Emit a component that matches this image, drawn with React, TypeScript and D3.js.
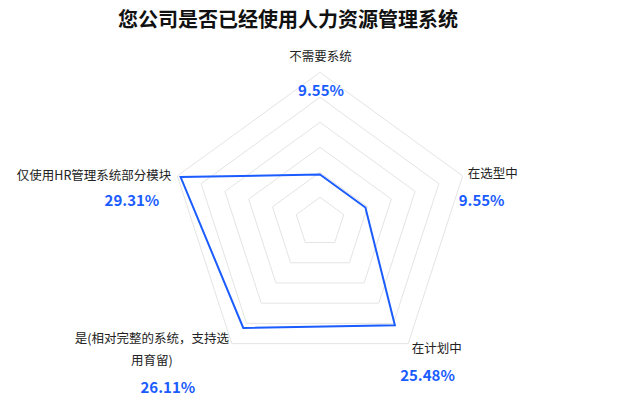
import * as d3 from 'd3';
import { useEffect, useRef } from 'react';

const title = '您公司是否已经使用人力资源管理系统';
const categories = [
  '不需要系统',
  '在选型中',
  '在计划中',
  '是(相对完整的系统，支持选\n用育留)',
  '仅使用HR管理系统部分模块',
];
const values = [9.55, 9.55, 25.48, 26.11, 29.31];
const maxValue = 30;
const ringCount = 6;

// label placement relative to each outer vertex
const labelLayout = [
  { anchor: 'middle', nx: 0.5, ny: -17, vAnchor: 'middle', vx: 1, vy: 17 },
  { anchor: 'start', nx: 5, ny: -3, vAnchor: 'start', vx: -4, vy: 24 },
  { anchor: 'start', nx: 3.5, ny: 4, vAnchor: 'start', vx: -8, vy: 31 },
  { anchor: 'middle', nx: -80, ny: -6, vAnchor: 'middle', vx: -64, vy: 43 },
  { anchor: 'end', nx: -6, ny: -1, vAnchor: 'end', vx: -18, vy: 24 },
];

const W = 640;
const H = 403;
const cx = 320;
const cy = 222.3;
const R = 150;
const BLUE = '#1a5cff';
const FONT = '"Noto Sans CJK SC", "Noto Sans", sans-serif';

export default function App() {
  const ref = useRef<SVGSVGElement>(null);

  useEffect(() => {
    if (!ref.current) return;
    const svg = d3.select(ref.current);
    svg.selectAll('*').remove();

    const r = d3.scaleLinear().domain([0, maxValue]).range([0, R]);
    const angle = d3.scaleLinear().domain([0, categories.length]).range([0, Math.PI * 2]);
    const pt = (i: number, rad: number): [number, number] => [
      cx + Math.sin(angle(i)) * rad,
      cy - Math.cos(angle(i)) * rad,
    ];

    svg.append('rect').attr('width', W).attr('height', H).attr('fill', '#fff');

    // title
    svg.append('text')
      .text(title)
      .attr('x', 288)
      .attr('y', 18)
      .attr('text-anchor', 'middle')
      .attr('dominant-baseline', 'central')
      .attr('font-family', FONT)
      .attr('font-weight', 'bold')
      .attr('font-size', 20)
      .attr('fill', '#111');

    // grid rings
    const ringValues = d3.range(1, ringCount + 1).map((k) => (maxValue / ringCount) * k);
    const line = d3.line().curve(d3.curveLinearClosed);
    svg.append('g')
      .selectAll('path')
      .data(ringValues)
      .join('path')
      .attr('d', (v) => line(categories.map((_, i) => pt(i, r(v)))))
      .attr('fill', 'none')
      .attr('stroke', '#e4e4e4')
      .attr('stroke-width', 1);

    // data polygon
    svg.append('path')
      .attr('d', line(values.map((v, i) => pt(i, r(v)))))
      .attr('fill', 'none')
      .attr('stroke', BLUE)
      .attr('stroke-width', 2)
      .attr('stroke-linejoin', 'miter');

    // labels
    categories.forEach((name, i) => {
      const [vx, vy] = pt(i, R);
      const L = labelLayout[i];
      const lines = name.split('\n');
      lines.forEach((ln, j) => {
        svg.append('text')
          .text(ln)
          .attr('x', vx + L.nx)
          .attr('y', vy + L.ny + j * 22)
          .attr('text-anchor', L.anchor)
          .attr('dominant-baseline', 'central')
          .attr('font-family', FONT)
          .attr('font-size', 12.5)
          .attr('fill', '#222');
      });
      svg.append('text')
        .text(`${values[i].toFixed(2)}%`)
        .attr('x', vx + L.vx)
        .attr('y', vy + L.vy)
        .attr('text-anchor', L.vAnchor)
        .attr('dominant-baseline', 'central')
        .attr('font-family', FONT)
        .attr('font-weight', 'bold')
        .attr('font-size', 15)
        .attr('fill', BLUE);
    });
  }, []);

  return (
    <svg
      ref={ref}
      width={W}
      height={H}
      style={{ position: 'absolute', left: 0, top: 0, display: 'block' }}
    />
  );
}
